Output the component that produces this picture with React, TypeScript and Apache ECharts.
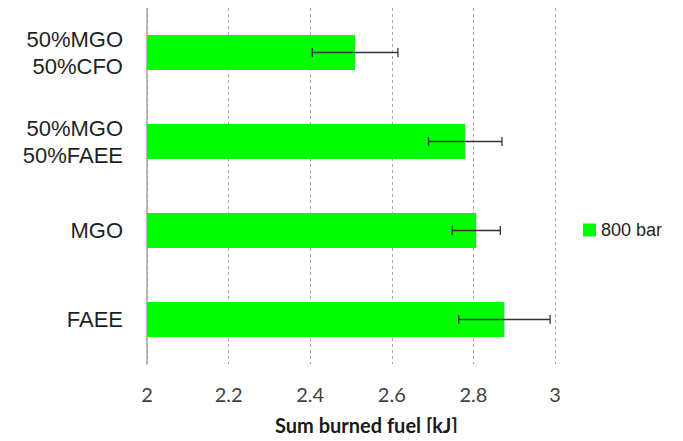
import React, { useEffect, useRef } from "react";
import * as echarts from "echarts";

// Fuel blends, listed top to bottom
const categories = ["50%MGO\n50%CFO", "50%MGO\n50%FAEE", "MGO", "FAEE"];
// Sum of burned fuel at 800 bar injection pressure [kJ]
const burnedFuel = [2.51, 2.78, 2.807, 2.876];
// Error bar half-widths [kJ]
const errorMargin = [0.105, 0.09, 0.059, 0.112];
const xTicks = [2, 2.2, 2.4, 2.6, 2.8, 3];
const seriesName = "800 bar";

export default function App() {
  const ref = useRef<HTMLDivElement>(null);

  useEffect(() => {
    if (!ref.current) return;
    const chart = echarts.init(ref.current, null, { renderer: "svg" });

    const errorData = burnedFuel.map((v, i) => [i, v - errorMargin[i], v + errorMargin[i]]);

    chart.setOption({
      animation: false,
      backgroundColor: "#ffffff",
      grid: { left: 147, right: 128, top: 8, bottom: 77, containLabel: false },
      legend: {
        data: [seriesName],
        left: 578,
        top: 216,
        icon: "rect",
        itemWidth: 13,
        itemHeight: 13,
        itemGap: 5,
        textStyle: { fontFamily: "Liberation Sans", fontSize: 18, color: "#1f1f1f" },
      },
      xAxis: {
        type: "value",
        min: xTicks[0],
        max: xTicks[xTicks.length - 1],
        interval: 0.2,
        axisLine: { show: false },
        axisTick: { show: false },
        axisLabel: {
          margin: 20,
          fontFamily: "Lato",
          fontSize: 20,
          color: "#404040",
          formatter: (v: number) => String(Math.round(v * 10) / 10),
        },
        splitLine: {
          show: true,
          lineStyle: { color: "#a6a6a6", type: [3, 3], width: 1 },
        },
      },
      yAxis: {
        type: "category",
        data: categories,
        inverse: true,
        axisLine: { show: true, lineStyle: { color: "#a6a6a6", width: 1.5 } },
        axisTick: { show: false },
        axisLabel: {
          margin: 24,
          fontFamily: "Liberation Sans",
          fontSize: 22,
          lineHeight: 27,
          color: "#1f1f1f",
          align: "right",
        },
        splitLine: { show: false },
      },
      graphic: [
        {
          type: "text",
          left: 275,
          top: 415,
          style: {
            text: "Sum burned fuel [kJ]",
            fontFamily: "Lato",
            fontWeight: "bold",
            fontSize: 20,
            fill: "#1a1a1a",
          },
        },
      ],
      series: [
        {
          name: seriesName,
          type: "bar",
          data: burnedFuel,
          barWidth: 35,
          itemStyle: { color: "#00ff00" },
          z: 2,
        },
        {
          name: "error",
          type: "custom",
          data: errorData,
          z: 3,
          renderItem: (params: any, api: any) => {
            const idx = api.value(0);
            const lo = api.coord([api.value(1), idx]);
            const hi = api.coord([api.value(2), idx]);
            const h = 4.5;
            const style = { stroke: "#333333", lineWidth: 1.3 };
            return {
              type: "group",
              children: [
                { type: "line", shape: { x1: lo[0], y1: lo[1], x2: hi[0], y2: hi[1] }, style },
                { type: "line", shape: { x1: lo[0], y1: lo[1] - h, x2: lo[0], y2: lo[1] + h }, style },
                { type: "line", shape: { x1: hi[0], y1: hi[1] - h, x2: hi[0], y2: hi[1] + h }, style },
              ],
            };
          },
        },
      ],
    });

    return () => chart.dispose();
  }, []);

  return <div ref={ref} style={{ width: 683, height: 441, margin: -8 }} />;
}
